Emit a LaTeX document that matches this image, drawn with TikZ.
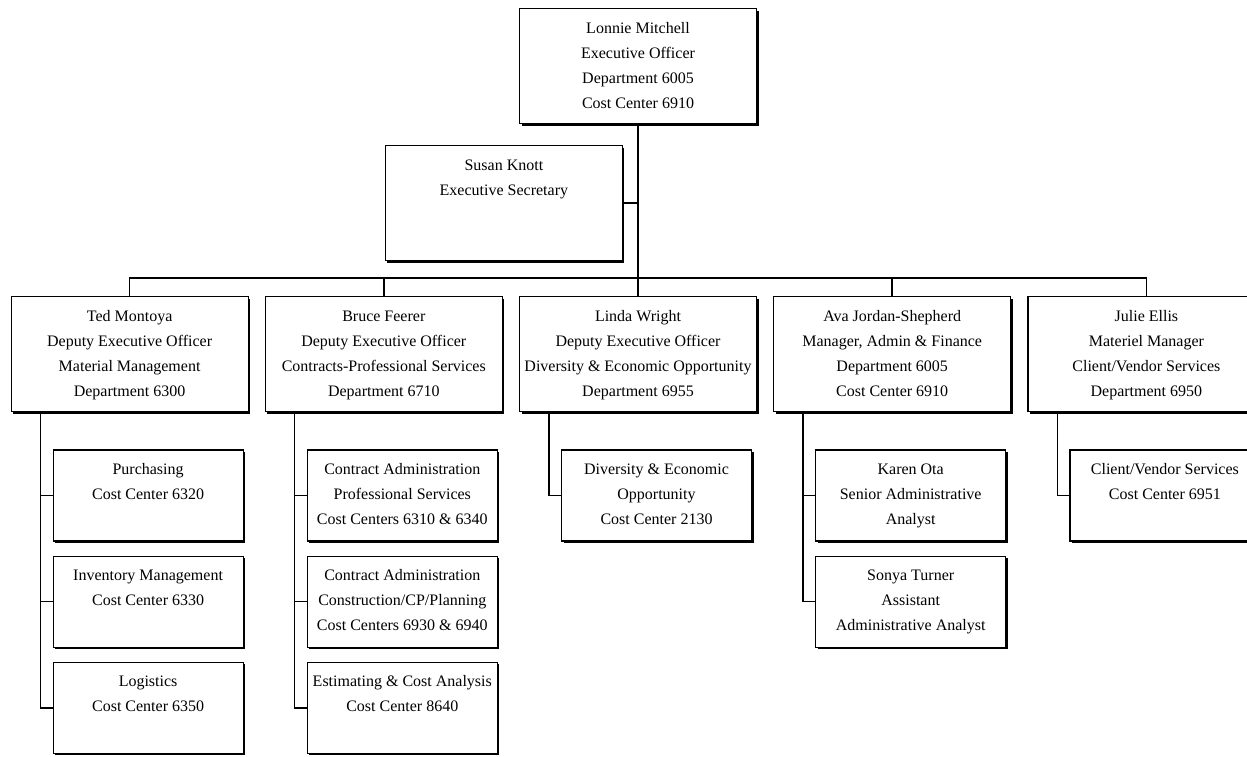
\documentclass[tikz,border=0pt]{standalone}
\usepackage{fontspec}
\setmainfont{Liberation Serif}
\usetikzlibrary{positioning,shadows}
\newcommand{\headtext}[1]{\parbox[c][115pt][t]{237pt}{\centering\rule{0pt}{25pt}#1}}
\newcommand{\unittext}[1]{\parbox[c][91pt][t]{190pt}{\centering\rule{0pt}{24pt}#1}}
\tikzset{
  card/.style={draw, fill=white, line width=1.2pt, inner sep=0pt, font=\fontsize{16}{25}\selectfont,
    drop shadow={shadow xshift=2pt, shadow yshift=-2pt, fill=black, opacity=1}},
  link/.style={line width=1.5pt},
}

\begin{document}
\begin{tikzpicture}[x=1pt, y=-1pt]
  \path[use as bounding box, fill=white] (0,0) rectangle (1247,757);
  \node[card, anchor=north] (exec) at (638,8) {\headtext{Lonnie Mitchell\\Executive Officer\\Department 6005\\Cost Center 6910}};
  \node[card, anchor=north east] (sec) at (623,145) {\headtext{Susan Knott\\Executive Secretary}};
  \node[card, below=172pt of exec] (linda) {\headtext{Linda Wright\\Deputy Executive Officer\\Diversity \& Economic Opportunity\\Department 6955}};
  \node[card, left=16pt of linda] (bruce) {\headtext{Bruce Feerer\\Deputy Executive Officer\\Contracts-Professional Services\\Department 6710}};
  \node[card, left=16pt of bruce] (ted) {\headtext{Ted Montoya\\Deputy Executive Officer\\Material Management\\Department 6300}};
  \node[card, right=16pt of linda] (ava) {\headtext{Ava Jordan-Shepherd\\Manager, Admin \& Finance\\Department 6005\\Cost Center 6910}};
  \node[card, right=16pt of ava] (julie) {\headtext{Julie Ellis\\Materiel Manager\\Client/Vendor Services\\Department 6950}};

  \node[card, anchor=north west] (purch) at ([xshift=42pt, yshift=-37pt]ted.south west) {\unittext{Purchasing\\Cost Center 6320}};
  \node[card, below=14pt of purch] (inv) {\unittext{Inventory Management\\Cost Center 6330}};
  \node[card, below=14pt of inv] (logi) {\unittext{Logistics\\Cost Center 6350}};

  \node[card, anchor=north west] (cadm) at ([xshift=42pt, yshift=-37pt]bruce.south west) {\unittext{Contract Administration\\Professional Services\\Cost Centers 6310 \& 6340}};
  \node[card, below=14pt of cadm] (ccon) {\unittext{Contract Administration\\Construction/CP/Planning\\Cost Centers 6930 \& 6940}};
  \node[card, below=14pt of ccon] (estim) {\unittext{Estimating \& Cost Analysis\\Cost Center 8640}};

  \node[card, anchor=north west] (divo) at ([xshift=42pt, yshift=-37pt]linda.south west) {\unittext{Diversity \& Economic\\Opportunity\\Cost Center 2130}};

  \node[card, anchor=north west] (karen) at ([xshift=42pt, yshift=-37pt]ava.south west) {\unittext{Karen Ota\\Senior Administrative\\Analyst}};
  \node[card, below=14pt of karen] (sonya) {\unittext{Sonya Turner\\Assistant\\Administrative Analyst}};

  \node[card, anchor=north west] (cvs) at ([xshift=42pt, yshift=-37pt]julie.south west) {\unittext{Client/Vendor Services\\Cost Center 6951}};

  % top of the chart
  \coordinate (bus) at ([yshift=18pt]linda.north);
  \draw[link] (exec) -- (linda);
  \draw[link] (sec) -- (sec -| exec);
  \draw[link] (ted.north) |- (bus) -| (julie.north);
  \draw[link] (bruce.north) -- (bruce.north |- bus);
  \draw[link] (ava.north) -- (ava.north |- bus);

  % units under each head
  \draw[link] ([xshift=30pt]ted.south west) |- (purch.west);
  \draw[link] ([xshift=30pt]ted.south west) |- (inv.west);
  \draw[link] ([xshift=30pt]ted.south west) |- (logi.west);
  \draw[link] ([xshift=30pt]bruce.south west) |- (cadm.west);
  \draw[link] ([xshift=30pt]bruce.south west) |- (ccon.west);
  \draw[link] ([xshift=30pt]bruce.south west) |- (estim.west);
  \draw[link] ([xshift=30pt]linda.south west) |- (divo.west);
  \draw[link] ([xshift=30pt]ava.south west) |- (karen.west);
  \draw[link] ([xshift=30pt]ava.south west) |- (sonya.west);
  \draw[link] ([xshift=30pt]julie.south west) |- (cvs.west);
\end{tikzpicture}
\end{document}
